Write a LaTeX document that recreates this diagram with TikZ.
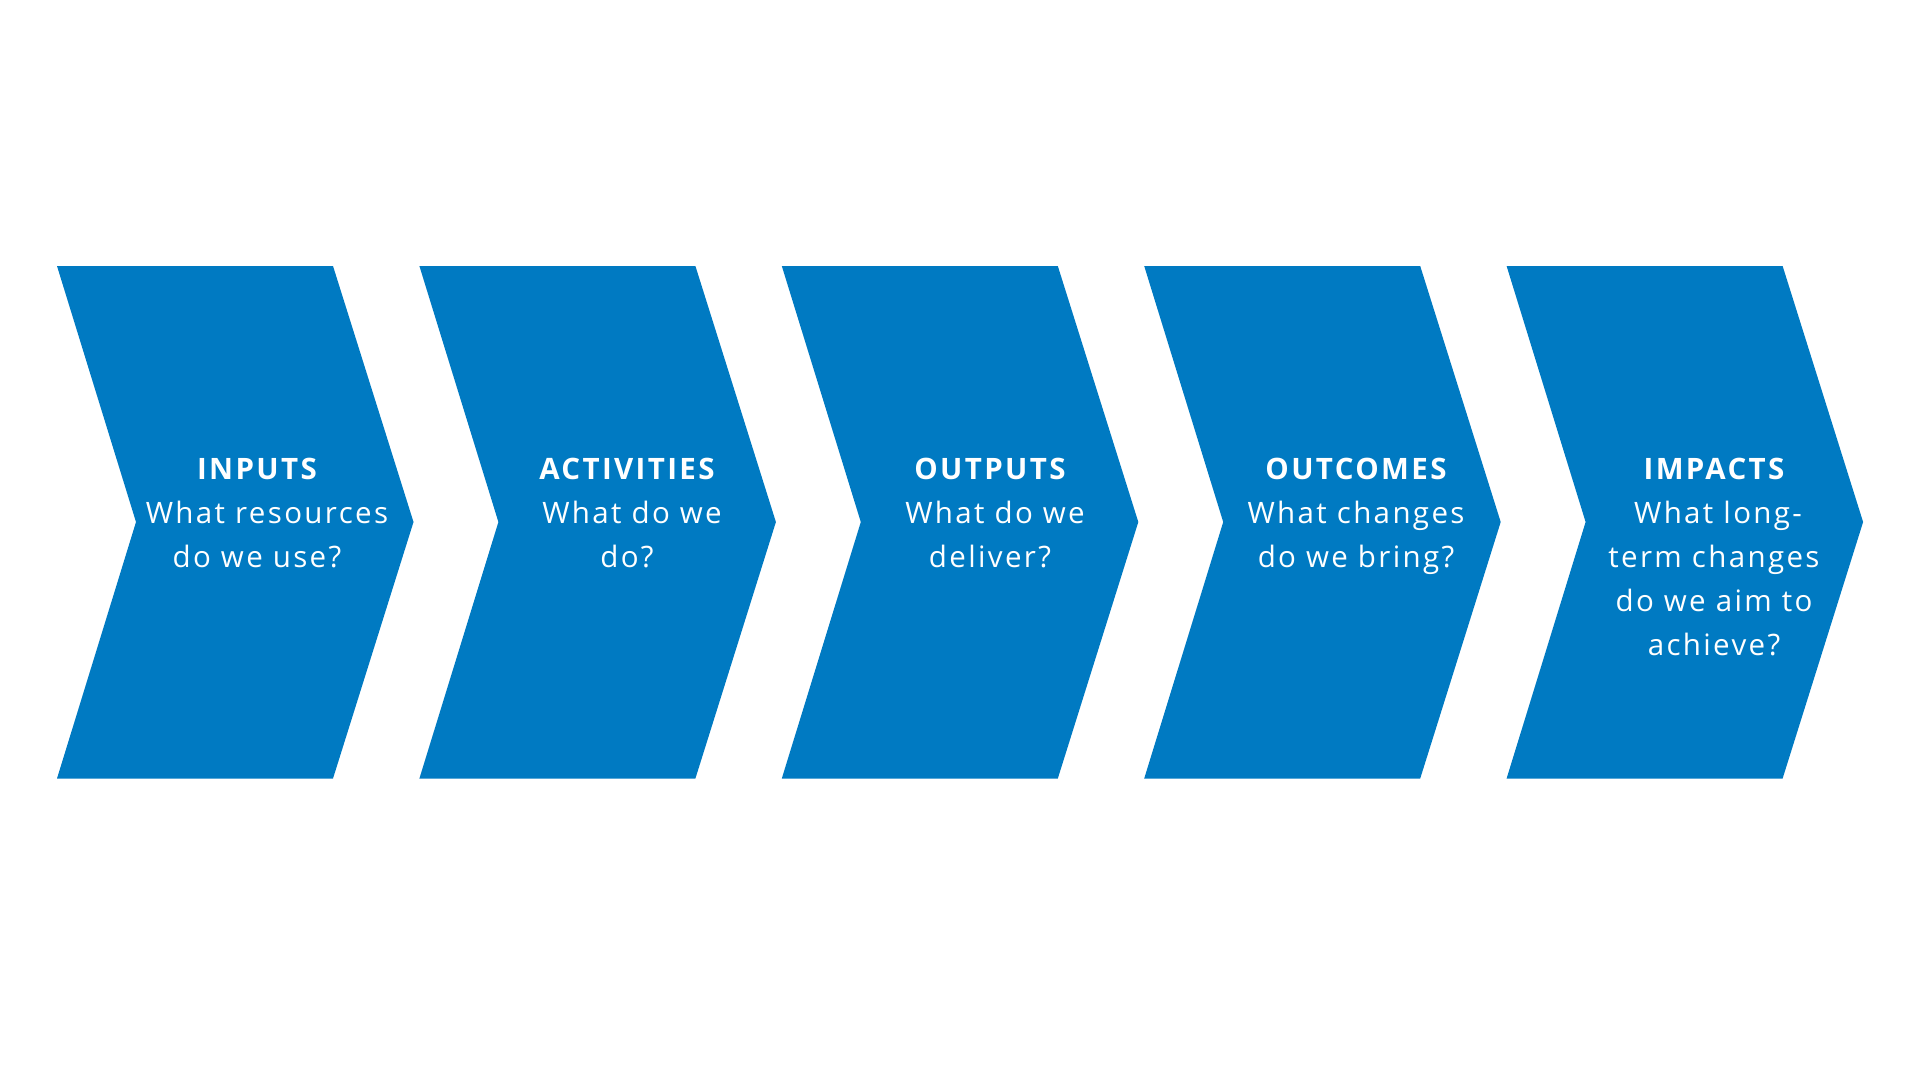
\documentclass[tikz,border=0pt]{standalone}
\usepackage{fontspec}
\setmainfont{Open Sans}[LetterSpace=8]
\definecolor{chevblue}{RGB}{0,122,194}
\tikzset{
  chev/.style={fill=chevblue, draw=none},
  ttl/.style={text=white, font=\fontsize{29.5}{44}\selectfont\bfseries, anchor=base, inner sep=0pt},
  txt/.style={text=white, font=\fontsize{29.5}{44}\selectfont, anchor=base, inner sep=0pt}
}
\begin{document}
\begin{tikzpicture}[x=1pt,y=-1pt]
\useasboundingbox (0,0) rectangle (1920,1080);
\fill[white] (0,0) rectangle (1920,1080);
\foreach \i in {0,...,4}{
  \pgfmathsetmacro{\L}{57+362.4*\i}
  \fill[chev] (\L,266) -- ({\L+276},266) -- ({\L+356.5},522) -- ({\L+276},778.5) -- (\L,778.5) -- ({\L+79},522) -- cycle;
}
% INPUTS
\node[ttl] (t1) at (257,479.5) {INPUTS};
\node[txt] (a1) at (267,523.5) {What resources};
\node[txt] (b1) at (257,567.5) {do we use?};
% ACTIVITIES
\node[ttl] (t2) at (627,479.5) {ACTIVITIES};
\node[txt] (a2) at (632,523.5) {What do we};
\node[txt] (b2) at (627,567.5) {do?};
% OUTPUTS
\node[ttl] (t3) at (990,479.5) {OUTPUTS};
\node[txt] (a3) at (995,523.5) {What do we};
\node[txt] (b3) at (990,567.5) {deliver?};
% OUTCOMES
\node[ttl] (t4) at (1356,479.5) {OUTCOMES};
\node[txt] (a4) at (1356,523.5) {What changes};
\node[txt] (b4) at (1356,567.5) {do we bring?};
% IMPACTS
\node[ttl] (t5) at (1714,479.5) {IMPACTS};
\node[txt] (a5) at (1718,523.5) {What long-};
\node[txt] (b5) at (1714,567.5) {term changes};
\node[txt] (c5) at (1714,611.5) {do we aim to};
\node[txt] (d5) at (1714,655.5) {achieve?};
\end{tikzpicture}
\end{document}
